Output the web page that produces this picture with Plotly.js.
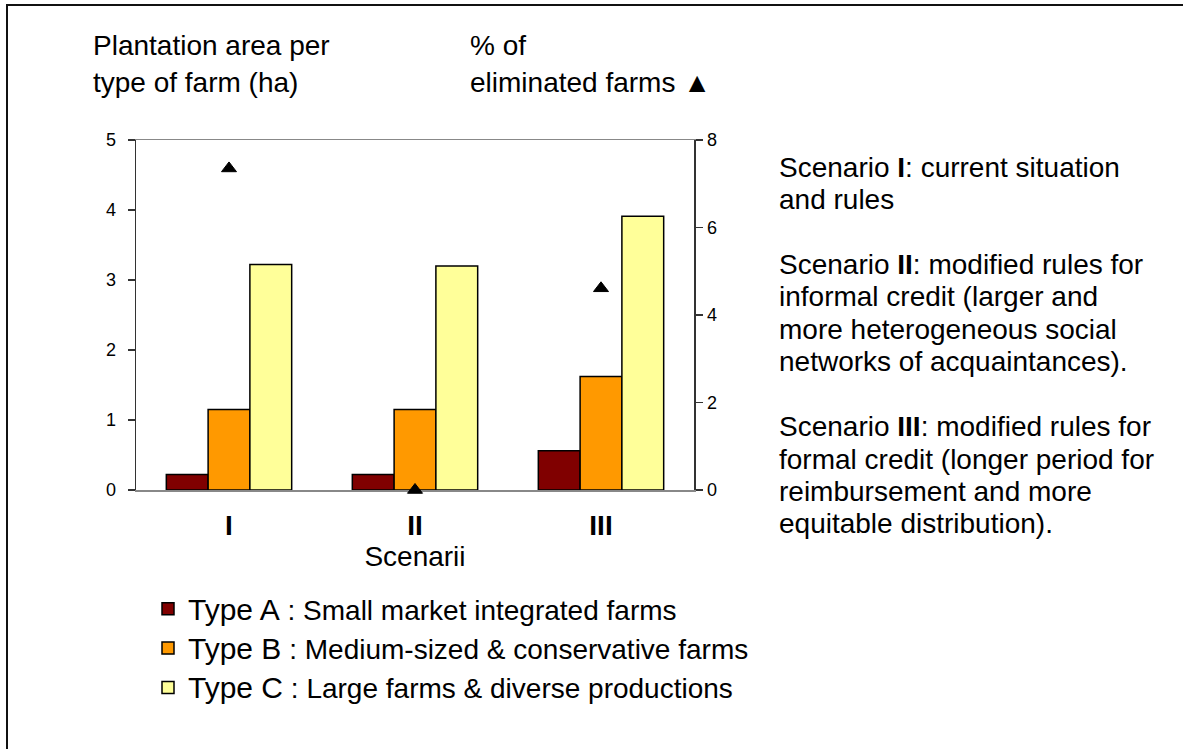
<!DOCTYPE html>
<html><head><meta charset="utf-8">
<script src="https://cdn.plot.ly/plotly-3.0.1.min.js"></script>
<style>html,body{margin:0;padding:0;background:#fff}#chart{width:1183px;height:749px}</style>
</head><body><div id="chart"></div>
<script>
// ---- data ----
const scenarios = ['I', 'II', 'III'];
const typeA = [0.22, 0.22, 0.56];
const typeB = [1.15, 1.15, 1.62];
const typeC = [3.22, 3.20, 3.91];
const eliminatedPct = [7.35, 0, 4.61];
const seriesNames = ['Type A', 'Type B', 'Type C'];
const seriesDescriptions = ['Small market integrated farms', 'Medium-sized & conservative farms', 'Large farms & diverse productions'];
const leftTicks = [0, 1, 2, 3, 4, 5];
const rightTicks = [0, 2, 4, 6, 8];
const leftTitleLines = ['Plantation area per', 'type of farm (ha)'];
const rightTitleLines = ['% of', 'eliminated farms <span style="font-size:28px">▲</span>'];
const xTitle = 'Scenarii';
const scenarioNotes = [
  'Scenario <b>I</b>: current situation',
  'and rules',
  '',
  'Scenario <b>II</b>: modified rules for',
  'informal credit (larger and',
  'more heterogeneous social',
  'networks of acquaintances).',
  '',
  'Scenario <b>III</b>: modified rules for',
  'formal credit (longer period for',
  'reimbursement and more',
  'equitable distribution).'
];

// ---- styles / geometry ----
const colors = ['#800000', '#FF9900', '#FFFF99'];
const W = 1183, H = 749, L = 136, R = 694, T = 140, B = 490;
const fx = p => (p - L) / (R - L);
const fy = p => (B - p) / (B - T);
const FONT = 'Liberation Sans, Arial, Helvetica, sans-serif';
const axisDark = '#333333';
const TXT = 28;

const seriesVals = [typeA, typeB, typeC];
const traces = seriesVals.map((vals, i) => ({
  type: 'bar',
  x: scenarios,
  y: vals,
  name: '<span style="font-size:30px">' + seriesNames[i] + '</span> : ' + seriesDescriptions[i],
  marker: {color: colors[i], line: {color: '#000', width: 1.5}},
  xaxis: 'x', yaxis: 'y',
  hoverinfo: 'x+y'
}));
traces.push({
  type: 'scatter',
  mode: 'markers',
  x: scenarios,
  y: eliminatedPct,
  yaxis: 'y2',
  showlegend: false,
  cliponaxis: false,
  marker: {symbol: 'triangle-up', size: 13, color: '#000', line: {color: '#000', width: 1}}
});

const annotations = [];
leftTitleLines.forEach((t, i) => annotations.push({
  text: t, xref: 'paper', yref: 'paper', x: fx(91), y: fy(45 + i * 37),
  xanchor: 'left', yanchor: 'middle', showarrow: false,
  font: {family: FONT, size: TXT, color: '#000'}
}));
rightTitleLines.forEach((t, i) => annotations.push({
  text: t, xref: 'paper', yref: 'paper', x: fx(468), y: fy(45 + i * 37),
  xanchor: 'left', yanchor: 'middle', showarrow: false,
  font: {family: FONT, size: TXT, color: '#000'}
}));
scenarioNotes.forEach((t, i) => {
  if (!t) return;
  annotations.push({
    text: t, xref: 'paper', yref: 'paper', x: fx(777), y: fy(167 + i * 32.45),
    xanchor: 'left', yanchor: 'middle', showarrow: false,
    font: {family: FONT, size: TXT, color: '#000'}
  });
});

const tickFont = {family: FONT, size: 18, color: '#000'};
const layout = {
  width: W, height: H,
  margin: {l: L, r: W - R, t: T, b: H - B, pad: 0},
  paper_bgcolor: '#fff', plot_bgcolor: '#fff',
  font: {family: FONT, color: '#000'},
  barmode: 'group', bargap: 0.326, bargroupgap: 0,
  showlegend: true,
  legend: {
    x: fx(148), xanchor: 'left', y: fy(584), yanchor: 'top',
    font: {family: FONT, size: TXT, color: '#000'},
    bgcolor: 'rgba(0,0,0,0)', borderwidth: 0, traceorder: 'normal'
  },
  xaxis: {
    type: 'category', range: [-0.5, 2.5],
    showline: true, linecolor: '#888888', linewidth: 1.5, mirror: true, layer: 'below traces',
    showgrid: false, zeroline: false, ticks: '',
    tickfont: {family: FONT, size: 28, color: '#000', weight: 'bold'},
    ticklabelstandoff: 10,
    title: {text: xTitle, font: {family: FONT, size: TXT, color: '#000'}, standoff: 0}
  },
  yaxis: {
    range: [0, 5], tickvals: leftTicks, ticktext: leftTicks.map(String),
    showline: true, linecolor: axisDark, linewidth: 1.5, layer: 'below traces',
    ticks: 'outside', ticklen: 7, tickwidth: 1.5, tickcolor: axisDark,
    showgrid: false, zeroline: false, tickfont: tickFont, ticklabelstandoff: 8,
    fixedrange: true
  },
  yaxis2: {
    range: [0, 8], tickvals: rightTicks, ticktext: rightTicks.map(String),
    overlaying: 'y', side: 'right', anchor: 'x',
    showline: true, linecolor: axisDark, linewidth: 1.5, layer: 'below traces',
    ticks: 'outside', ticklen: 7, tickwidth: 1.5, tickcolor: axisDark,
    showgrid: false, zeroline: false, tickfont: tickFont, ticklabelstandoff: 1
  },
  yaxis3: {
    range: [0, 5], tickvals: leftTicks, overlaying: 'y', side: 'left', anchor: 'x',
    showline: false, ticks: 'inside', ticklen: 7, tickwidth: 1.5, tickcolor: axisDark,
    showticklabels: false, showgrid: false, zeroline: false
  },
  yaxis4: {
    range: [0, 8], tickvals: rightTicks, overlaying: 'y', side: 'right', anchor: 'x',
    showline: false, ticks: 'inside', ticklen: 7, tickwidth: 1.5, tickcolor: axisDark,
    showticklabels: false, showgrid: false, zeroline: false
  },
  annotations: annotations,
  shapes: [{
    type: 'path', xref: 'paper', yref: 'paper',
    path: 'M' + fx(7) + ',' + fy(749) + ' L' + fx(7) + ',' + fy(5) + ' L' + fx(1183) + ',' + fy(5),
    line: {color: '#111', width: 2}
  }]
};

Plotly.newPlot('chart', traces, layout, {displayModeBar: false, staticPlot: true});
</script>
</body></html>
